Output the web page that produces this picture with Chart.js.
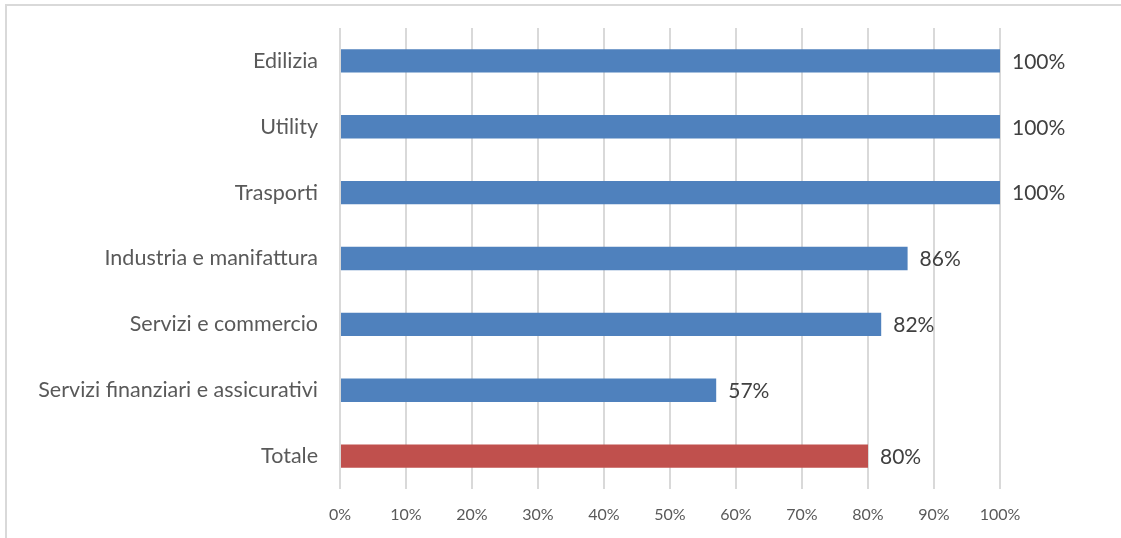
<!DOCTYPE html>
<html>
<head>
<meta charset="utf-8">
<script src="https://cdn.jsdelivr.net/npm/chart.js@4"></script>
<style>
  html, body { margin: 0; padding: 0; background: #fff; overflow: hidden; }
  #frame {
    position: absolute; left: 5px; top: 4px; width: 1130px; height: 560px;
    border: 2px solid #d9d9d9; box-sizing: border-box;
  }
  #wrap { position: absolute; left: 0; top: 0; }
</style>
</head>
<body>
<div id="frame"></div>
<div id="wrap"><canvas id="sectorBar" width="1121" height="538"></canvas></div>
<script>
const sectors = [
  "Edilizia",
  "Utility",
  "Trasporti",
  "Industria e manifattura",
  "Servizi e commercio",
  "Servizi finanziari e assicurativi",
  "Totale",
];
const shares = [100, 100, 100, 86, 82, 57, 80];
const barColors = ["#4f81bd", "#4f81bd", "#4f81bd", "#4f81bd", "#4f81bd", "#4f81bd", "#c0504d"];
const xTicks = [0, 10, 20, 30, 40, 50, 60, 70, 80, 90, 100];

const fontFamily = "Lato, 'Open Sans', sans-serif";

// writes the percentage just past the end of each bar
const valueLabels = {
  id: "valueLabels",
  afterDatasetsDraw(chart) {
    const { ctx } = chart;
    const meta = chart.getDatasetMeta(0);
    ctx.save();
    ctx.font = "21px " + fontFamily;
    ctx.fillStyle = "#404040";
    ctx.textAlign = "left";
    ctx.textBaseline = "middle";
    meta.data.forEach((bar, i) => {
      ctx.fillText(shares[i] + "%", bar.x + 12, bar.y + 1);
    });
    ctx.restore();
  },
};

const ctx = document.getElementById("sectorBar").getContext("2d");
const sectorChart = new Chart(ctx, {
  type: "bar",
  data: {
    labels: sectors,
    datasets: [
      {
        data: shares,
        backgroundColor: barColors,
        borderWidth: 0,
        categoryPercentage: 1,
        barPercentage: 0.355,
      },
    ],
  },
  options: {
    indexAxis: "y",
    responsive: false,
    animation: false,
    devicePixelRatio: 1,
    layout: {
      padding: { top: 28, right: 121, bottom: 0, left: 0 },
    },
    scales: {
      x: {
        min: 0,
        max: 100,
        afterFit: (scale) => {
          scale.height = 49;
          scale.paddingLeft = 0;
          scale.paddingRight = 0;
        },
        afterBuildTicks: (scale) => {
          scale.ticks = xTicks.map((v) => ({ value: v }));
        },
        border: { display: false },
        grid: {
          color: "#d9d9d9",
          lineWidth: 2,
          drawTicks: false,
        },
        ticks: {
          padding: 16,
          color: "#595959",
          font: { family: fontFamily, size: 16 },
          callback: (v) => v + "%",
        },
      },
      y: {
        afterFit: (scale) => {
          scale.width = 340;
          scale.paddingTop = 0;
          scale.paddingBottom = 0;
        },
        border: { display: false },
        grid: { display: false, drawTicks: false },
        ticks: {
          padding: 22,
          color: "#595959",
          font: { family: fontFamily, size: 21.5 },
        },
      },
    },
    plugins: {
      legend: { display: false },
      tooltip: { enabled: false },
    },
  },
  plugins: [valueLabels],
});
</script>
</body>
</html>
